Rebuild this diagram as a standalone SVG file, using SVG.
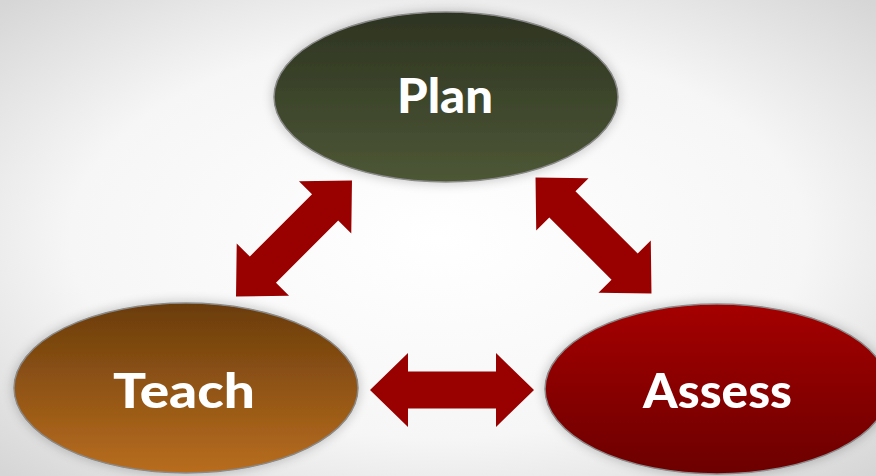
<svg xmlns="http://www.w3.org/2000/svg" width="876" height="476" viewBox="0 0 876 476">
  <defs>
    <radialGradient id="bg" cx="50%" cy="50%" r="70%">
      <stop offset="0" stop-color="#ffffff"/>
      <stop offset="0.6" stop-color="#f6f6f6"/>
      <stop offset="1" stop-color="#d6d6d6"/>
    </radialGradient>
    <linearGradient id="gPlan" x1="0" y1="0" x2="0" y2="1">
      <stop offset="0" stop-color="#2d3321"/>
      <stop offset="1" stop-color="#4d5736"/>
    </linearGradient>
    <linearGradient id="gTeach" x1="0" y1="0" x2="0" y2="1">
      <stop offset="0" stop-color="#6a3c0b"/>
      <stop offset="1" stop-color="#b86d1f"/>
    </linearGradient>
    <linearGradient id="gAssess" x1="0" y1="0" x2="0" y2="1">
      <stop offset="0" stop-color="#a50000"/>
      <stop offset="1" stop-color="#6c0003"/>
    </linearGradient>
    <filter id="glow" x="-20%" y="-30%" width="140%" height="160%">
      <feGaussianBlur in="SourceAlpha" stdDeviation="6"/>
      <feComponentTransfer><feFuncA type="linear" slope="0.25"/></feComponentTransfer>
      <feMerge><feMergeNode/><feMergeNode in="SourceGraphic"/></feMerge>
    </filter>
    <!-- double-headed block arrow, centred on the origin, pointing along x -->
    <polygon id="dblArrow" points="-82,0 -44,-37 -44,-18.5 44,-18.5 44,-37 82,0 44,37 44,18.5 -44,18.5 -44,37"/>
  </defs>
  <style>
    .node { stroke: #8a8a8a; stroke-width: 1.5; filter: url(#glow); }
    .label { font-family: "Lato", "Open Sans", "Liberation Sans", sans-serif; font-weight: 900; font-size: 47px; fill: #ffffff; text-anchor: middle; }
    .arrow { fill: #990000; }
  </style>

  <rect width="876" height="476" fill="url(#bg)"/>

  <g id="connectors">
    <use href="#dblArrow" class="arrow" transform="translate(294,238.5) rotate(-45)"/>
    <use href="#dblArrow" class="arrow" transform="translate(593.5,235.5) rotate(45)"/>
    <use href="#dblArrow" class="arrow" transform="translate(452,390)"/>
  </g>

  <g id="plan">
    <ellipse class="node" cx="446" cy="97" rx="172" ry="85" fill="url(#gPlan)"/>
    <text class="label" x="445" y="113" textLength="96" lengthAdjust="spacingAndGlyphs">Plan</text>
  </g>

  <g id="teach">
    <ellipse class="node" cx="186" cy="388" rx="172" ry="85" fill="url(#gTeach)"/>
    <text class="label" x="184" y="408" textLength="142" lengthAdjust="spacingAndGlyphs">Teach</text>
  </g>

  <g id="assess">
    <ellipse class="node" cx="717" cy="389" rx="172" ry="85" fill="url(#gAssess)"/>
    <text class="label" x="717.5" y="408" textLength="149" lengthAdjust="spacingAndGlyphs">Assess</text>
  </g>
</svg>
